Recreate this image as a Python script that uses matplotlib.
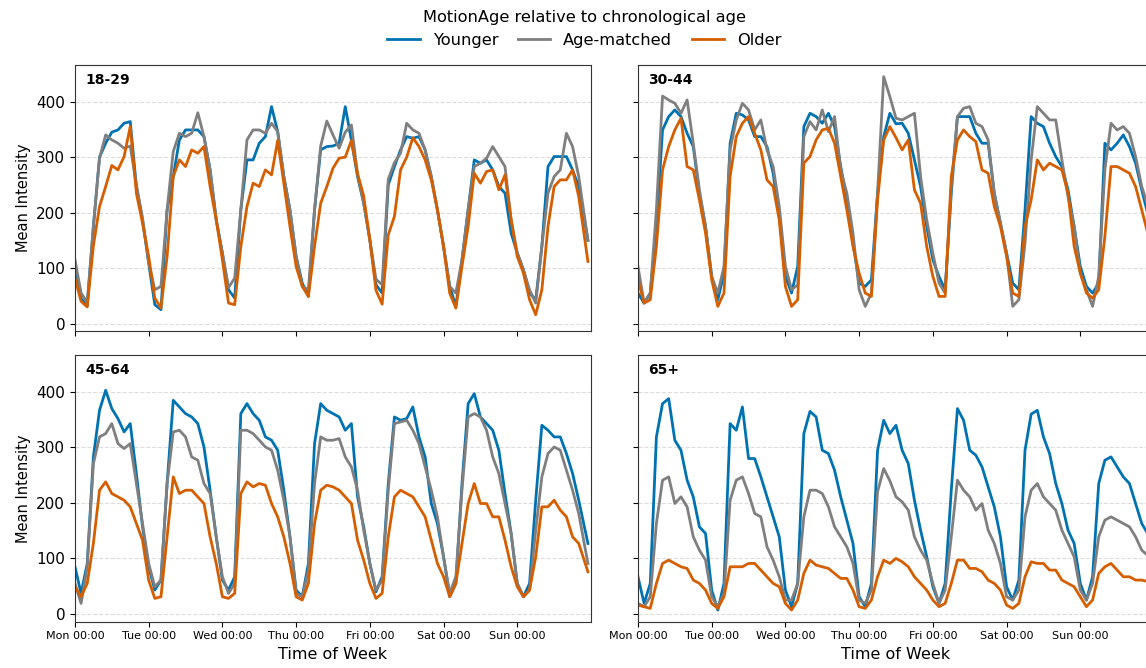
import matplotlib
matplotlib.use("Agg")
import matplotlib.pyplot as plt
import numpy as np

# hours of the week (every 2 h, last sample at 167)
hours = list(range(0, 166, 2)) + [167]
day_ticks = [0, 24, 48, 72, 96, 120, 144]
day_labels = ["Mon 00:00", "Tue 00:00", "Wed 00:00", "Thu 00:00",
              "Fri 00:00", "Sat 00:00", "Sun 00:00"]

groups = ["18-29", "30-44", "45-64", "65+"]
series_names = ["Younger", "Age-matched", "Older"]
colors = ["#0072B2", "#7f7f7f", "#D55E00"]

# 18-29
young_18 = [105, 45, 32, 175, 300, 325, 345, 349, 361, 364, 247, 187,
            109, 34, 25, 205, 265, 331, 349, 349, 349, 337, 277, 187,
            127, 61, 46, 205, 295, 295, 325, 337, 391, 346, 265, 205,
            121, 73, 49, 205, 313, 319, 320, 325, 391, 330, 265, 217,
            151, 70, 55, 250, 283, 313, 337, 334, 337, 313, 265, 205,
            139, 67, 31, 115, 205, 295, 289, 295, 277, 247, 235, 163,
            127, 97, 55, 43, 139, 283, 301, 301, 301, 277, 247, 150]
match_18 = [115, 55, 38, 175, 298, 340, 331, 325, 316, 320, 250, 190,
            110, 61, 67, 205, 310, 343, 337, 343, 380, 337, 277, 187,
            127, 65, 82, 205, 331, 349, 349, 343, 361, 346, 265, 205,
            121, 67, 61, 205, 320, 365, 340, 316, 345, 358, 270, 217,
            151, 80, 70, 260, 290, 307, 361, 349, 343, 313, 265, 205,
            139, 67, 55, 115, 205, 283, 289, 298, 319, 301, 283, 187,
            127, 97, 61, 37, 139, 235, 265, 277, 343, 319, 265, 150]
older_18 = [82, 40, 30, 140, 211, 247, 285, 277, 301, 355, 235, 181,
            121, 46, 28, 121, 265, 295, 283, 313, 307, 319, 247, 187,
            115, 37, 34, 139, 211, 253, 247, 277, 268, 330, 253, 175,
            103, 67, 49, 139, 217, 247, 280, 298, 300, 330, 270, 230,
            151, 60, 35, 160, 193, 277, 300, 335, 319, 295, 259, 205,
            139, 55, 28, 103, 175, 271, 253, 274, 277, 241, 268, 187,
            121, 91, 43, 16, 61, 175, 247, 259, 259, 277, 229, 112]

# 30-44
young_30 = [55, 37, 55, 175, 349, 373, 385, 373, 343, 319, 235, 175,
            85, 43, 91, 325, 379, 376, 367, 337, 337, 319, 271, 193,
            85, 55, 103, 355, 379, 373, 361, 379, 355, 283, 223, 145,
            73, 67, 79, 235, 337, 379, 360, 361, 343, 295, 247, 175,
            115, 85, 61, 235, 373, 373, 373, 343, 325, 325, 235, 181,
            127, 73, 61, 205, 373, 361, 355, 325, 301, 283, 241, 175,
            103, 67, 55, 73, 325, 313, 325, 340, 319, 289, 241, 175]
match_30 = [103, 37, 55, 205, 410, 403, 397, 379, 403, 325, 241, 175,
            85, 55, 103, 313, 367, 397, 385, 349, 367, 313, 283, 211,
            103, 61, 70, 337, 364, 349, 385, 346, 373, 277, 235, 163,
            61, 31, 55, 235, 445, 409, 370, 367, 373, 379, 265, 187,
            127, 73, 55, 247, 373, 388, 391, 361, 355, 331, 235, 181,
            127, 31, 43, 145, 295, 391, 379, 367, 367, 295, 229, 175,
            91, 61, 31, 85, 277, 361, 349, 355, 343, 301, 247, 195]
older_30 = [79, 37, 43, 139, 277, 319, 349, 370, 283, 277, 223, 163,
            79, 31, 55, 265, 337, 361, 373, 343, 313, 259, 247, 187,
            67, 31, 43, 289, 301, 331, 349, 352, 325, 265, 205, 139,
            91, 55, 49, 223, 331, 355, 335, 313, 331, 241, 217, 139,
            85, 49, 49, 265, 331, 349, 337, 328, 277, 271, 211, 175,
            121, 55, 49, 175, 223, 295, 277, 289, 283, 277, 235, 139,
            91, 55, 46, 61, 157, 283, 283, 277, 271, 247, 205, 140]

# 45-64
young_45 = [85, 37, 91, 283, 367, 403, 370, 352, 328, 343, 253, 157,
            85, 43, 61, 235, 385, 373, 361, 355, 343, 301, 223, 139,
            61, 43, 67, 361, 379, 361, 349, 319, 313, 295, 223, 139,
            43, 31, 91, 307, 379, 367, 361, 355, 331, 343, 211, 157,
            91, 40, 67, 235, 355, 349, 352, 373, 319, 283, 199, 163,
            103, 31, 55, 235, 379, 397, 355, 343, 331, 295, 217, 145,
            55, 31, 55, 205, 340, 331, 319, 319, 289, 253, 205, 127]
match_45 = [55, 19, 85, 271, 319, 325, 343, 307, 298, 307, 235, 163,
            91, 49, 61, 235, 328, 331, 319, 283, 277, 235, 217, 139,
            67, 37, 55, 331, 331, 325, 313, 301, 295, 259, 205, 139,
            37, 31, 79, 235, 319, 313, 313, 316, 283, 265, 223, 151,
            91, 43, 61, 223, 343, 346, 349, 331, 307, 265, 223, 175,
            103, 37, 67, 223, 355, 361, 355, 331, 283, 253, 199, 145,
            55, 31, 43, 151, 247, 289, 301, 295, 259, 223, 181, 91]
older_45 = [49, 31, 55, 127, 223, 238, 217, 211, 205, 193, 163, 133,
            61, 28, 31, 139, 247, 217, 223, 223, 211, 199, 139, 91,
            31, 28, 37, 217, 238, 229, 235, 232, 199, 175, 139, 91,
            31, 25, 55, 163, 223, 232, 229, 223, 211, 199, 133, 97,
            55, 28, 37, 139, 211, 223, 217, 211, 193, 175, 133, 91,
            67, 31, 55, 127, 199, 235, 199, 199, 175, 175, 133, 85,
            49, 31, 43, 103, 193, 193, 205, 187, 175, 139, 127, 76]

# 65+
young_65 = [67, 19, 55, 319, 379, 388, 313, 295, 241, 211, 157, 145,
            43, 7, 55, 343, 331, 373, 280, 280, 247, 211, 175, 139,
            43, 13, 55, 325, 365, 355, 295, 289, 259, 211, 169, 127,
            31, 13, 55, 295, 349, 325, 340, 295, 271, 205, 151, 103,
            49, 19, 55, 223, 370, 349, 295, 286, 265, 229, 193, 139,
            49, 25, 61, 295, 360, 367, 319, 289, 235, 199, 151, 127,
            55, 25, 67, 235, 277, 283, 265, 247, 235, 199, 163, 135]
match_65 = [19, 13, 31, 163, 241, 247, 199, 211, 193, 139, 115, 97,
            31, 13, 37, 205, 241, 247, 217, 181, 175, 121, 97, 67,
            25, 25, 55, 175, 223, 223, 217, 193, 157, 139, 121, 91,
            25, 19, 43, 220, 262, 240, 211, 202, 187, 139, 115, 97,
            55, 19, 43, 139, 241, 223, 211, 187, 199, 151, 127, 91,
            31, 25, 43, 175, 223, 235, 211, 199, 187, 151, 127, 103,
            43, 25, 55, 139, 169, 175, 169, 163, 157, 139, 115, 100]
older_65 = [16, 13, 10, 55, 91, 97, 91, 85, 82, 61, 55, 43,
            19, 10, 31, 85, 85, 85, 91, 91, 79, 67, 55, 49,
            19, 7, 25, 73, 97, 88, 85, 82, 73, 64, 64, 43,
            13, 10, 25, 67, 97, 91, 100, 94, 85, 67, 55, 43,
            25, 13, 19, 55, 97, 97, 82, 82, 76, 61, 55, 43,
            16, 10, 19, 67, 94, 91, 91, 79, 79, 61, 55, 49,
            31, 13, 25, 73, 85, 91, 79, 67, 67, 61, 61, 57]

panel_data = [
    [young_18, match_18, older_18],
    [young_30, match_30, older_30],
    [young_45, match_45, older_45],
    [young_65, match_65, older_65],
]

fig, axes = plt.subplots(2, 2, figsize=(11.46, 6.68), dpi=100, sharex=True, sharey=True)
fig.subplots_adjust(left=0.0654, right=1.007, top=0.9027, bottom=0.0693,
                    wspace=0.091, hspace=0.09)

for i, ax in enumerate(axes.flat):
    for vals, name, c in zip(panel_data[i], series_names, colors):
        ax.plot(hours, vals, color=c, lw=2, label=name)
    ax.text(0.02, 0.945, groups[i], transform=ax.transAxes, fontsize=10,
            fontweight="bold", ha="left", va="center")
    ax.grid(axis="y", ls="--", color="#dddddd", lw=0.8)
    ax.set_axisbelow(True)
    for sp in ax.spines.values():
        sp.set_color("#333333")
    ax.tick_params(axis="y", labelsize=11)
    ax.tick_params(axis="x", labelsize=8)

axes[0, 0].set_xlim(0, 168)
axes[0, 0].set_ylim(-14, 466)
axes[0, 0].set_yticks([0, 100, 200, 300, 400])
axes[0, 0].set_xticks(day_ticks)
axes[1, 0].set_xticklabels(day_labels)
for ax in axes[1]:
    ax.set_xlabel("Time of Week", fontsize=11.5)
for ax in axes[:, 0]:
    ax.set_ylabel("Mean Intensity", fontsize=10.5)

handles, labels = axes[0, 0].get_legend_handles_labels()
fig.legend(handles, labels, loc="upper center", bbox_to_anchor=(0.51, 1.0),
           ncol=3, frameon=False, fontsize=11.7,
           title="MotionAge relative to chronological age", title_fontsize=11.7,
           handlelength=2, columnspacing=1.2, borderaxespad=0.2)

fig.savefig("out.png", dpi=100)
